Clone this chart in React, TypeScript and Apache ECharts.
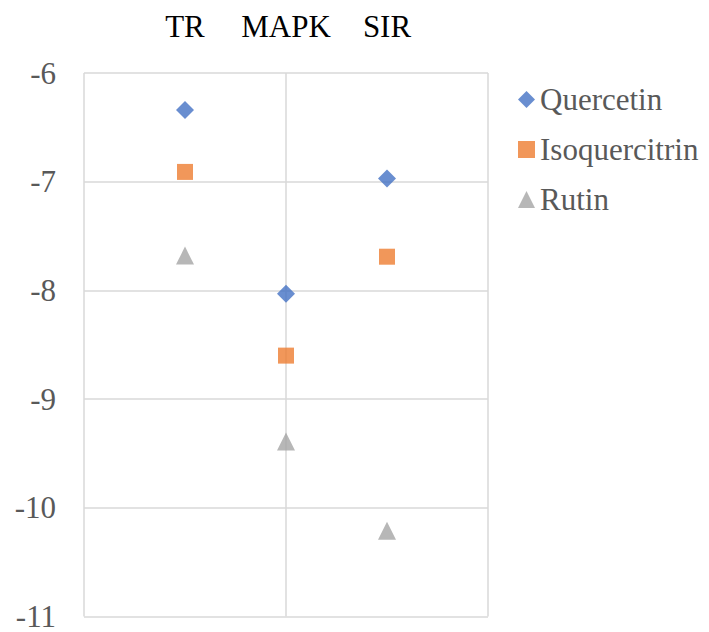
import React, { useEffect, useRef } from "react";
import * as echarts from "echarts";

const categories = ["TR", "MAPK", "SIR"];
const quercetin = [-6.34, -8.03, -6.97];
const isoquercitrin = [-6.91, -8.6, -7.69];
const rutin = [-7.68, -9.39, -10.21];
const yTicks = { min: -11, max: -6, interval: 1 };

export default function App() {
  const ref = useRef<HTMLDivElement>(null);
  useEffect(() => {
    if (!ref.current) return;
    const chart = echarts.init(ref.current, null, { renderer: "svg" });
    const toPoints = (vals: number[]) => vals.map((v, i) => [i + 1, v]);
    const font = "Times New Roman, Liberation Serif, serif";
    chart.setOption({
      animation: false,
      backgroundColor: "#ffffff",
      textStyle: { fontFamily: font },
      grid: { left: 84, right: 221, top: 73, bottom: 13, containLabel: false },
      legend: {
        orient: "vertical",
        left: 513,
        top: 79,
        itemWidth: 17,
        itemHeight: 17,
        itemGap: 19,
        textStyle: { fontFamily: font, fontSize: 31, color: "#595959" },
        data: ["Quercetin", "Isoquercitrin", "Rutin"],
      },
      xAxis: [
        {
          type: "value",
          min: 0,
          max: 4,
          interval: 2,
          position: "bottom",
          axisLine: { show: false },
          axisTick: { show: false },
          axisLabel: { show: false },
          splitLine: { show: true, lineStyle: { color: "#d9d9d9", width: 1.5 } },
        },
        {
          type: "category",
          position: "top",
          boundaryGap: false,
          data: ["", ...categories, ""],
          axisLine: { show: false },
          axisTick: { show: false },
          splitLine: { show: false },
          axisLabel: {
            interval: 0,
            margin: 31,
            fontFamily: font,
            fontSize: 31,
            color: "#000000",
          },
        },
      ],
      yAxis: {
        type: "value",
        min: yTicks.min,
        max: yTicks.max,
        interval: yTicks.interval,
        axisLine: { show: false },
        axisTick: { show: false },
        axisLabel: {
          margin: 28,
          fontFamily: font,
          fontSize: 31,
          lineHeight: 22,
          color: "#595959",
        },
        splitLine: { show: true, lineStyle: { color: "#d9d9d9", width: 1.5 } },
      },
      series: [
        {
          name: "Quercetin",
          type: "scatter",
          symbol: "diamond",
          symbolSize: 18,
          itemStyle: { color: "#4472C4" },
          data: toPoints(quercetin),
        },
        {
          name: "Isoquercitrin",
          type: "scatter",
          symbol: "rect",
          symbolSize: 16,
          itemStyle: { color: "#ED7D31" },
          data: toPoints(isoquercitrin),
        },
        {
          name: "Rutin",
          type: "scatter",
          symbol: "triangle",
          symbolSize: 18,
          itemStyle: { color: "#A5A5A5" },
          data: toPoints(rutin),
        },
      ],
    });
    return () => chart.dispose();
  }, []);
  return (
    <div
      ref={ref}
      style={{ position: "fixed", left: 0, top: 0, width: 709, height: 632, background: "#fff" }}
    />
  );
}
